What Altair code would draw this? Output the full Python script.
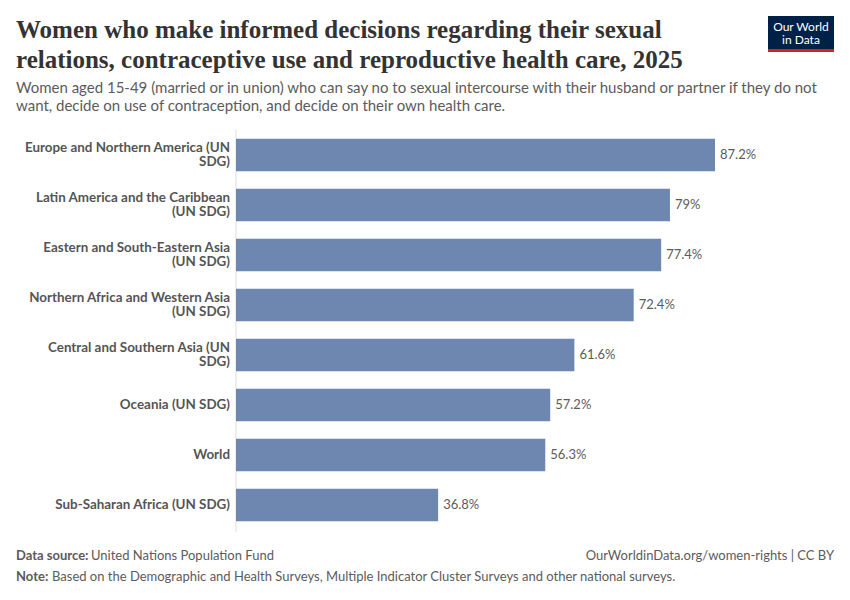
import altair as alt
import pandas as pd

# ---- data ----
regions = [
    "Europe and Northern America (UN SDG)",
    "Latin America and the Caribbean (UN SDG)",
    "Eastern and South-Eastern Asia (UN SDG)",
    "Northern Africa and Western Asia (UN SDG)",
    "Central and Southern Asia (UN SDG)",
    "Oceania (UN SDG)",
    "World",
    "Sub-Saharan Africa (UN SDG)",
]
label_line1 = [
    "Europe and Northern America (UN",
    "Latin America and the Caribbean",
    "Eastern and South-Eastern Asia",
    "Northern Africa and Western Asia",
    "Central and Southern Asia (UN",
    "Oceania (UN SDG)",
    "World",
    "Sub-Saharan Africa (UN SDG)",
]
label_line2 = ["SDG)", "(UN SDG)", "(UN SDG)", "(UN SDG)", "SDG)", "", "", ""]
values = [87.2, 79, 77.4, 72.4, 61.6, 57.2, 56.3, 36.8]

title_line1 = "Women who make informed decisions regarding their sexual"
title_line2 = "relations, contraceptive use and reproductive health care, 2025"
subtitle_line1 = ("Women aged 15-49 (married or in union) who can say no to sexual intercourse "
                  "with their husband or partner if they do not")
subtitle_line2 = "want, decide on use of contraception, and decide on their own health care."
source_label = "Data source:"
source_text = "United Nations Population Fund"
note_label = "Note:"
note_text = "Based on the Demographic and Health Surveys, Multiple Indicator Cluster Surveys and other national surveys."
url_text = "OurWorldinData.org/women-rights | CC BY"
logo_line1 = "Our World"
logo_line2 = "in Data"

df = pd.DataFrame({"region": regions, "l1": label_line1, "l2": label_line2, "value": values})
one = pd.DataFrame({"k": [0]})

W, H = 479, 400
X0, Y0 = 236, 130  # page position of plot origin


def px(x):
    return x - X0


def py(y):
    return y - Y0


ysc = alt.Y("region:N", sort=regions, axis=None,
            scale=alt.Scale(paddingInner=0.35, paddingOuter=0.175))
xsc = alt.X("value:Q", axis=None, scale=alt.Scale(domain=[0, 87.2], nice=False, zero=True))

base = alt.Chart(df)

bars = base.mark_bar(color="#6d87b1").encode(x=xsc, y=ysc)

vals = base.transform_calculate(txt="datum.value + '%'").mark_text(
    align="left", baseline="middle", dx=5, font="Lato", fontSize=13, color="#5b5b5b"
).encode(x=xsc, y=ysc, text="txt:N")

lab_kw = dict(align="right", baseline="middle", font="Lato", fontSize=13.4,
              fontWeight="bold", color="#555555")
lab_single = base.transform_filter("datum.l2 == ''").mark_text(**lab_kw).encode(
    x=alt.value(-6), y=ysc, text="l1:N")
lab_top = base.transform_filter("datum.l2 != ''").mark_text(dy=-7, **lab_kw).encode(
    x=alt.value(-6), y=ysc, text="l1:N")
lab_bot = base.transform_filter("datum.l2 != ''").mark_text(dy=7, **lab_kw).encode(
    x=alt.value(-6), y=ysc, text="l2:N")

zero = alt.Chart(one).mark_rule(color="#dddddd", strokeWidth=1).encode(
    x=alt.value(0), y=alt.value(0), y2=alt.value(H + 2)
)


def txt(text, x, y, **kw):
    d = pd.DataFrame({"t": [text]})
    return alt.Chart(d).mark_text(**kw).encode(
        x=alt.value(px(x)), y=alt.value(py(y)), text="t:N"
    )


tkw = dict(align="left", baseline="alphabetic", font="Liberation Serif",
           fontSize=25, fontWeight="bold", color="#333333")
title1 = txt(title_line1, 16, 38, **tkw)
title2 = txt(title_line2, 16, 68, **tkw)
skw = dict(align="left", baseline="middle", font="Lato", fontSize=15, color="#5b5b5b")
sub1 = txt(subtitle_line1, 16, 88, **skw)
sub2 = txt(subtitle_line2, 16, 106, **skw)

logo_box = alt.Chart(one).mark_rect(color="#002147").encode(
    x=alt.value(px(768)), x2=alt.value(px(834)), y=alt.value(py(16)), y2=alt.value(py(49)))
logo_red = alt.Chart(one).mark_rect(color="#ce261e").encode(
    x=alt.value(px(768)), x2=alt.value(px(834)), y=alt.value(py(49)), y2=alt.value(py(52)))
lkw = dict(align="center", baseline="middle", font="Lato", fontSize=12, color="#ffffff")
logo1 = txt(logo_line1, 801, 27, **lkw)
logo2 = txt(logo_line2, 801, 39.5, **lkw)

fkw = dict(align="left", baseline="middle", font="Lato", fontSize=13, color="#5b5b5b")
src1 = txt(source_label, 16, 556, fontWeight="bold", **fkw)
src2 = txt(source_text, 91, 556, **fkw)
url = txt(url_text, 834, 556, align="right", baseline="middle", font="Lato", fontSize=13,
          color="#5b5b5b")
note1 = txt(note_label, 16, 577, fontWeight="bold", **fkw)
note2 = txt(note_text, 52, 577, **fkw)

chart = alt.layer(
    zero, bars, vals, lab_single, lab_top, lab_bot, title1, title2, sub1, sub2,
    logo_box, logo_red, logo1, logo2, src1, src2, url, note1, note2
).properties(
    width=W, height=H,
    background="white",
    autosize=alt.AutoSizeParams(type="none"),
    padding={"left": X0 - 8, "top": Y0 - 8, "right": 850 - 16 - (X0 - 8) - W,
             "bottom": 600 - 16 - (Y0 - 8) - H},
).configure_view(strokeWidth=0, stroke=None)

chart.save("out.html", embed_options={"renderer": "svg", "actions": False})
